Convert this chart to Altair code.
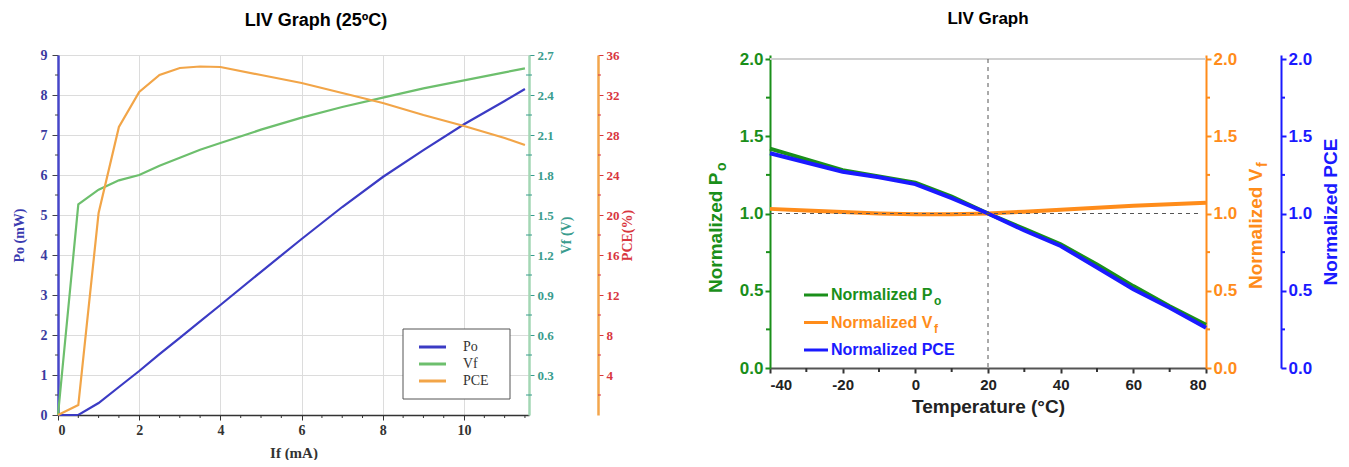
import altair as alt
import pandas as pd

# ---------------- Left panel: LIV graph at 25 C ----------------
if_ma = [0, 0.5, 1, 1.5, 2, 2.5, 3, 3.5, 4, 5, 6, 7, 8, 9, 10, 11, 11.5]
po_mw = [0, 0, 0.3, 0.7, 1.1, 1.52, 1.93, 2.34, 2.75, 3.58, 4.4, 5.2, 5.95, 6.62, 7.27, 7.85, 8.15]
vf_v = [0, 1.58, 1.69, 1.76, 1.80, 1.87, 1.93, 1.99, 2.04, 2.14, 2.23, 2.31, 2.38, 2.45, 2.51, 2.57, 2.60]
pce_pct = [0, 1.0, 20.2, 28.8, 32.3, 34.0, 34.7, 34.85, 34.8, 34.0, 33.2, 32.2, 31.2, 30.0, 28.9, 27.7, 27.0]
left_series = ["Po", "Vf", "PCE"]
left_colors = ["#3b3bc4", "#6dbf6d", "#f2a548"]
x_ticks_left = [0, 2, 4, 6, 8, 10]
x_minor_left = [0.5, 1, 1.5, 2.5, 3, 3.5, 4.5, 5, 5.5, 6.5, 7, 7.5, 8.5, 9, 9.5, 10.5, 11, 11.5]
po_ticks = [0, 1, 2, 3, 4, 5, 6, 7, 8, 9]
po_minor = [0.5, 1.5, 2.5, 3.5, 4.5, 5.5, 6.5, 7.5, 8.5]
vf_ticks = [0.3, 0.6, 0.9, 1.2, 1.5, 1.8, 2.1, 2.4, 2.7]
vf_minor = [0.15, 0.45, 0.75, 1.05, 1.35, 1.65, 1.95, 2.25, 2.55]
pce_ticks = [4, 8, 12, 16, 20, 24, 28, 32, 36]
pce_minor = [2, 6, 10, 14, 18, 22, 26, 30, 34]

# ---------------- Right panel: normalized vs temperature ----------------
temp_c = [-40, -30, -20, -10, 0, 10, 20, 30, 40, 50, 60, 70, 80]
norm_po = [1.42, 1.35, 1.28, 1.24, 1.20, 1.11, 1.00, 0.90, 0.80, 0.67, 0.53, 0.40, 0.28]
norm_vf = [1.03, 1.02, 1.01, 1.0, 0.995, 0.995, 1.0, 1.012, 1.025, 1.037, 1.05, 1.06, 1.07]
norm_pce = [1.39, 1.33, 1.27, 1.235, 1.19, 1.10, 1.00, 0.89, 0.79, 0.65, 0.51, 0.39, 0.26]
right_labels = ["Normalized P", "Normalized V", "Normalized PCE"]
right_subs = ["o", "f", ""]
right_colors = ["#1a8f1a", "#ff8c1a", "#1a1aff"]
x_ticks_right = [-40, -20, 0, 20, 40, 60, 80]
x_minor_right = [-30, -10, 10, 30, 50, 70]
norm_ticks = [0.0, 0.5, 1.0, 1.5, 2.0]
norm_minor = [0.25, 0.75, 1.25, 1.75]
ref_temp = 20
ref_norm = 1.0

SERIF = "Liberation Serif"
SANS = "Liberation Sans"


def y_minor(values, domain, x0, x1, color, width=1):
    return alt.Chart(pd.DataFrame({"v": values})).mark_rule(color=color, strokeWidth=width).encode(
        y=alt.Y("v:Q", scale=alt.Scale(domain=domain, nice=False), axis=None),
        x=alt.value(x0), x2=alt.value(x1))


def x_minor(values, y0, y1, color, width=1):
    return alt.Chart(pd.DataFrame({"v": values})).mark_rule(color=color, strokeWidth=width).encode(
        x=alt.X("v:Q"), y=alt.value(y0), y2=alt.value(y1))


# ======================= LEFT =======================
LW, LH = 471, 360
left_df = pd.DataFrame({"If": if_ma, "Po": po_mw, "Vf": vf_v, "PCE": pce_pct})

xL = alt.X("If:Q", scale=alt.Scale(domain=[0, 11.6], nice=False),
           axis=alt.Axis(values=x_ticks_left, title="If (mA)", grid=True, gridColor="#dcdcdc",
                         labelFont=SERIF, labelFontWeight="bold", labelFontSize=14, labelColor="#333",
                         titleFont=SERIF, titleFontSize=15, titleFontWeight="bold", titleColor="#333",
                         domainColor="#333", domainWidth=1.5, tickColor="#333", tickSize=5,
                         labelPadding=3, titlePadding=8))

po_line = alt.Chart(left_df).mark_line(strokeWidth=2.2, color=left_colors[0]).encode(
    x=xL,
    y=alt.Y("Po:Q", scale=alt.Scale(domain=[0, 9], nice=False),
            axis=alt.Axis(orient="left", values=po_ticks, title="Po (mW)", grid=True, gridColor="#dcdcdc",
                          labelFont=SERIF, labelFontWeight="bold", labelFontSize=14, labelColor="#3b3b9f",
                          titleFont=SERIF, titleFontWeight="bold", titleFontSize=14, titleColor="#3b3bb0",
                          domainColor="#4646c8", domainWidth=2.5, tickColor="#444", tickSize=6,
                          labelPadding=5, titlePadding=14)))

vf_line = alt.Chart(left_df).mark_line(strokeWidth=2.2, color=left_colors[1]).encode(
    x=xL,
    y=alt.Y("Vf:Q", scale=alt.Scale(domain=[0, 2.7], nice=False),
            axis=alt.Axis(orient="right", values=vf_ticks, format=".1f", title="Vf (V)", grid=False,
                          labelFont=SERIF, labelFontWeight="bold", labelFontSize=13, labelColor="#3a9c8e",
                          titleFont=SERIF, titleFontWeight="bold", titleFontSize=14, titleColor="#3a9c8e",
                          titleAngle=270, titleBaseline="top", domainColor="#a3d7b4", domainWidth=2.5,
                          tickColor="#3a9c8e", tickSize=5, labelPadding=3, titlePadding=6)))

pce_line = alt.Chart(left_df).mark_line(strokeWidth=2.2, color=left_colors[2]).encode(
    x=xL,
    y=alt.Y("PCE:Q", scale=alt.Scale(domain=[0, 36], nice=False),
            axis=alt.Axis(orient="right", offset=69, values=pce_ticks, title="PCE(%)", grid=False,
                          labelFont=SERIF, labelFontWeight="bold", labelFontSize=13, labelColor="#d8363e",
                          titleFont=SERIF, titleFontWeight="bold", titleFontSize=14, titleColor="#d8363e",
                          titleAngle=270, titleBaseline="top", domainColor="#f3a64c", domainWidth=2.5,
                          tickColor="#d8363e", tickSize=5, labelPadding=3, titlePadding=1)))

# minor ticks of the left panel
lm_x = x_minor(x_minor_left, LH, LH + 3, "#333")
lm_po = y_minor(po_minor, [0, 9], 0, -3, "#444")
lm_vf = y_minor(vf_minor, [0, 2.7], LW - 3, LW + 3, "#3a9c8e")
lm_pce = y_minor(pce_minor, [0, 36], LW + 69, LW + 72, "#d8363e")

# left legend (boxed)
lleg_df = pd.DataFrame({"label": left_series, "color": left_colors, "row": [0, 1, 2]})
lrow = alt.Scale(domain=[0, 2], range=[292, 326])
lleg_box = alt.Chart(lleg_df.head(1)).mark_rect(fill="white", stroke="#555", strokeWidth=1).encode(
    x=alt.value(345), x2=alt.value(452), y=alt.value(274), y2=alt.value(344))
lleg_sw = alt.Chart(lleg_df).mark_rule(strokeWidth=3).encode(
    x=alt.value(361), x2=alt.value(388), y=alt.Y("row:Q", scale=lrow, axis=None),
    color=alt.Color("color:N", scale=None))
lleg_tx = alt.Chart(lleg_df).mark_text(align="left", baseline="middle", font=SERIF,
                                       fontSize=14, color="#333").encode(
    x=alt.value(405), y=alt.Y("row:Q", scale=lrow, axis=None), text="label:N")

left = alt.layer(po_line, vf_line, pce_line, lm_x, lm_po, lm_vf, lm_pce,
                 lleg_box, lleg_sw, lleg_tx).resolve_scale(y="independent").properties(
    width=LW, height=LH,
    title=alt.TitleParams("LIV Graph (25ºC)", font=SANS, fontSize=18, fontWeight="bold",
                          color="black", anchor="middle", frame="bounds", offset=18, dx=-7))

# ======================= RIGHT =======================
RW, RH = 436, 313
YDOM = [0, 2.026]
XDOM = [-40, 80]
right_df = pd.DataFrame({"T": temp_c, "Po": norm_po, "Vf": norm_vf, "PCE": norm_pce})

xR = alt.X("T:Q", scale=alt.Scale(domain=XDOM, nice=False),
           axis=alt.Axis(values=x_ticks_right, title="Temperature (°C)", grid=False,
                         labelExpr="'' + datum.value",
                         labelFont=SANS, labelFontWeight="bold", labelFontSize=15, labelColor="#222",
                         titleFont=SANS, titleFontSize=19, titleFontWeight="bold", titleColor="#222",
                         domainColor="#555", domainWidth=2, tickColor="#333", tickSize=5, tickWidth=2,
                         labelPadding=4, titlePadding=5))


def norm_axis(color, orient, offset=0, title=None):
    kw = dict(orient=orient, values=norm_ticks, format=".1f", grid=False,
              labelFont=SANS, labelFontWeight="bold", labelFontSize=17, labelColor=color,
              domainColor=color, domainWidth=2, tickColor=color, tickSize=5, tickWidth=2,
              labelPadding=2, offset=offset)
    if title is not None:
        kw.update(title=title, titleFont=SANS, titleFontSize=19, titleFontWeight="bold",
                  titleColor=color, titleAngle=270, titleBaseline="top", titlePadding=10)
    else:
        kw.update(title=None)
    return alt.Axis(**kw)


rpo = alt.Chart(right_df).mark_line(strokeWidth=4, color=right_colors[0]).encode(
    x=xR, y=alt.Y("Po:Q", scale=alt.Scale(domain=YDOM, nice=False),
                  axis=norm_axis(right_colors[0], "left")))
rvf = alt.Chart(right_df).mark_line(strokeWidth=4, color=right_colors[1]).encode(
    x=xR, y=alt.Y("Vf:Q", scale=alt.Scale(domain=YDOM, nice=False),
                  axis=norm_axis(right_colors[1], "right")))
rpce = alt.Chart(right_df).mark_line(strokeWidth=4, color=right_colors[2]).encode(
    x=xR, y=alt.Y("PCE:Q", scale=alt.Scale(domain=YDOM, nice=False),
                  axis=norm_axis(right_colors[2], "right", offset=75, title="Normalized PCE")))

ys = alt.Scale(domain=YDOM, nice=False)
one = right_df.head(1)
top_line = alt.Chart(one).mark_rule(color="#d0d0d0", strokeWidth=2).encode(
    x=alt.X(datum=XDOM[0]), x2=alt.X2(datum=XDOM[1]),
    y=alt.Y(datum=2.0, scale=ys, axis=None))
vdash = alt.Chart(one).mark_rule(color="#555", strokeWidth=1, strokeDash=[4, 4]).encode(
    x=alt.X(datum=ref_temp),
    y=alt.Y(datum=2.0, scale=ys, axis=None), y2=alt.Y2(datum=0))
hdash = alt.Chart(one).mark_rule(color="#555", strokeWidth=1, strokeDash=[4, 4]).encode(
    x=alt.X(datum=XDOM[0]), x2=alt.X2(datum=78),
    y=alt.Y(datum=ref_norm, scale=ys, axis=None))

# minor ticks of the right panel
rm_x = x_minor(x_minor_right, RH, RH + 4, "#333", 2)
rm_po = y_minor(norm_minor, YDOM, 0, -4, right_colors[0], 2)
rm_vf = y_minor(norm_minor, YDOM, RW, RW + 4, right_colors[1], 2)
rm_pce = y_minor(norm_minor, YDOM, RW + 75, RW + 79, right_colors[2], 2)

# custom legend (with subscripts)
leg_df = pd.DataFrame({"label": right_labels, "sub": right_subs, "color": right_colors,
                       "row": [0, 1, 2]})
row_scale = alt.Scale(domain=[0, 2], range=[240, 295])
leg_sw = alt.Chart(leg_df).mark_rule(strokeWidth=3).encode(
    x=alt.value(34), x2=alt.value(58), y=alt.Y("row:Q", scale=row_scale, axis=None),
    color=alt.Color("color:N", scale=None))
leg_tx = alt.Chart(leg_df).mark_text(align="left", baseline="middle", font=SANS, fontWeight="bold",
                                     fontSize=16).encode(
    x=alt.value(61), y=alt.Y("row:Q", scale=row_scale, axis=None), text="label:N",
    color=alt.Color("color:N", scale=None))
leg_sub = alt.Chart(leg_df).mark_text(align="left", baseline="middle", font=SANS, fontWeight="bold",
                                      fontSize=12, dy=6).encode(
    x=alt.value(164), y=alt.Y("row:Q", scale=row_scale, axis=None), text="sub:N",
    color=alt.Color("color:N", scale=None))

# custom rotated axis titles with subscripts
ttl_po = alt.Chart(pd.DataFrame({"t": [right_labels[0]]})).mark_text(
    align="left", baseline="middle", angle=270, font=SANS, fontWeight="bold", fontSize=19,
    color=right_colors[0]).encode(x=alt.value(-54), y=alt.value(238), text="t:N")
ttl_po_sub = alt.Chart(pd.DataFrame({"t": [right_subs[0]]})).mark_text(
    align="left", baseline="middle", angle=270, font=SANS, fontWeight="bold", fontSize=14,
    color=right_colors[0]).encode(x=alt.value(-48), y=alt.value(116), text="t:N")
ttl_vf = alt.Chart(pd.DataFrame({"t": [right_labels[1]]})).mark_text(
    align="left", baseline="middle", angle=270, font=SANS, fontWeight="bold", fontSize=19,
    color=right_colors[1]).encode(x=alt.value(486), y=alt.value(234), text="t:N")
ttl_vf_sub = alt.Chart(pd.DataFrame({"t": [right_subs[1]]})).mark_text(
    align="left", baseline="middle", angle=270, font=SANS, fontWeight="bold", fontSize=14,
    color=right_colors[1]).encode(x=alt.value(493), y=alt.value(112), text="t:N")

right = alt.layer(rpo, rvf, rpce, top_line, vdash, hdash, rm_x, rm_po, rm_vf, rm_pce,
                  leg_sw, leg_tx, leg_sub,
                  ttl_po, ttl_po_sub, ttl_vf, ttl_vf_sub).resolve_scale(y="independent").properties(
    width=RW, height=RH,
    title=alt.TitleParams("LIV Graph", font=SANS, fontSize=17, fontWeight="bold",
                          color="black", anchor="middle", frame="group", offset=22))

chart = alt.hconcat(left, right, spacing=73).configure_view(stroke=None).properties(
    padding={"left": 4, "top": 2, "right": 0, "bottom": 0})

chart.save("out.html", embed_options={"renderer": "svg", "actions": False})
